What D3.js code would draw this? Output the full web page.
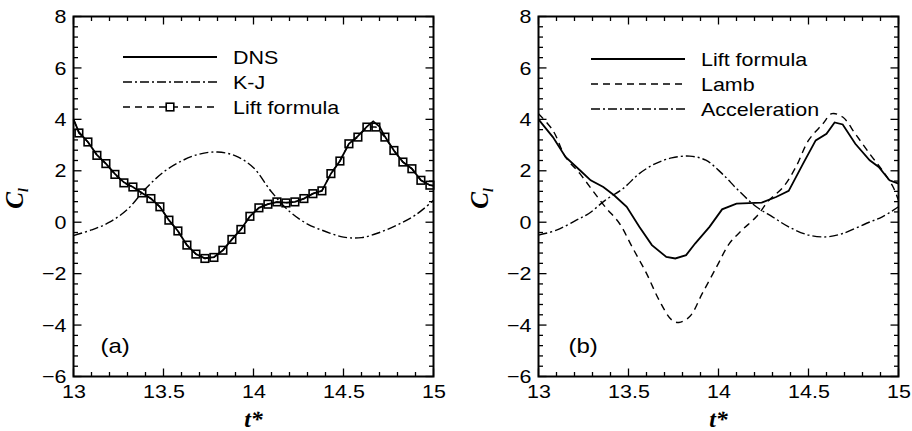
<!DOCTYPE html>
<html><head><meta charset="utf-8">
<script src="https://cdn.jsdelivr.net/npm/d3@7"></script>
<style>body{margin:0;background:#fff}svg{display:block}</style>
</head><body>
<svg id="c" width="912" height="431"></svg>
<script>
// ---------- data ----------
const xTicks = [13, 13.5, 14, 14.5, 15];
const yTicks = [-6, -4, -2, 0, 2, 4, 6, 8];

// Lift formula, panel (a) – markers at interior points
const liftT = [13, 13.03, 13.08, 13.13, 13.18, 13.23, 13.28, 13.33, 13.38, 13.43, 13.48, 13.53, 13.58, 13.63, 13.68, 13.73, 13.78, 13.83, 13.88, 13.93, 13.98, 14.03, 14.08, 14.13, 14.18, 14.23, 14.28, 14.33, 14.38, 14.43, 14.48, 14.53, 14.58, 14.63, 14.68, 14.73, 14.78, 14.83, 14.88, 14.93, 14.98, 15];
const liftV = [4.0, 3.47, 3.12, 2.6, 2.28, 1.86, 1.53, 1.37, 1.14, 0.92, 0.6, 0.08, -0.34, -0.89, -1.24, -1.41, -1.37, -1.09, -0.67, -0.28, 0.23, 0.56, 0.70, 0.79, 0.75, 0.79, 0.92, 1.11, 1.22, 1.89, 2.38, 3.05, 3.31, 3.70, 3.70, 3.31, 2.79, 2.34, 2.08, 1.63, 1.44, 1.42];

// DNS, panel (a)
const dnsT = [13, 13.03, 13.08, 13.13, 13.18, 13.23, 13.28, 13.33, 13.38, 13.43, 13.48, 13.53, 13.58, 13.63, 13.68, 13.73, 13.78, 13.83, 13.88, 13.93, 13.98, 14.03, 14.08, 14.13, 14.18, 14.23, 14.28, 14.33, 14.38, 14.43, 14.48, 14.53, 14.58, 14.63, 14.665, 14.7, 14.73, 14.78, 14.83, 14.88, 14.93, 14.98, 15];
const dnsV = [4.0, 3.5, 3.12, 2.62, 2.28, 1.88, 1.55, 1.37, 1.14, 0.92, 0.6, 0.08, -0.34, -0.89, -1.24, -1.4, -1.36, -1.09, -0.67, -0.28, 0.23, 0.56, 0.70, 0.78, 0.76, 0.79, 0.92, 1.11, 1.22, 1.89, 2.38, 3.05, 3.35, 3.72, 3.92, 3.72, 3.33, 2.79, 2.34, 2.08, 1.63, 1.44, 1.42];

// K-J, panel (a)
const kjT = [13, 13.1, 13.2, 13.3, 13.4, 13.5, 13.6, 13.7, 13.8, 13.9, 14.0, 14.1, 14.2, 14.3, 14.4, 14.5, 14.6, 14.7, 14.8, 14.9, 15];
const kjV = [-0.52, -0.3, 0.0, 0.5, 1.3, 1.95, 2.38, 2.65, 2.73, 2.58, 2.12, 1.18, 0.42, -0.07, -0.36, -0.58, -0.6, -0.4, -0.1, 0.28, 0.85];

// Lift formula, panel (b)
const liftBT = [13, 13.08, 13.15, 13.23, 13.29, 13.36, 13.42, 13.49, 13.56, 13.63, 13.71, 13.76, 13.82, 13.87, 13.95, 14.02, 14.1, 14.17, 14.24, 14.32, 14.39, 14.47, 14.54, 14.6, 14.645, 14.69, 14.76, 14.84, 14.89, 14.95, 15];
const liftBV = [4.0, 3.31, 2.54, 2.02, 1.63, 1.37, 1.05, 0.6, -0.18, -0.89, -1.35, -1.41, -1.28, -0.83, -0.18, 0.5, 0.72, 0.74, 0.76, 0.98, 1.22, 2.28, 3.18, 3.44, 3.88, 3.80, 3.05, 2.41, 2.15, 1.63, 1.5];

// Lamb, panel (b)
const lambT = [13, 13.08, 13.15, 13.23, 13.3, 13.37, 13.45, 13.52, 13.6, 13.67, 13.74, 13.78, 13.84, 13.91, 13.99, 14.06, 14.13, 14.21, 14.28, 14.36, 14.43, 14.5, 14.58, 14.63, 14.69, 14.76, 14.84, 14.91, 14.97, 15];
const lambV = [4.22, 3.57, 2.54, 1.89, 1.24, 0.6, -0.05, -0.96, -1.99, -3.03, -3.8, -3.9, -3.67, -2.77, -1.73, -0.83, -0.31, 0.21, 0.85, 1.37, 2.15, 3.18, 3.83, 4.22, 4.09, 3.44, 2.66, 2.02, 1.37, 0.85];

// Acceleration, panel (b)
const accT = [13, 13.1, 13.21, 13.28, 13.37, 13.47, 13.56, 13.65, 13.74, 13.84, 13.93, 14.02, 14.11, 14.21, 14.3, 14.39, 14.5, 14.6, 14.69, 14.82, 14.91, 15];
const accV = [-0.5, -0.31, 0.08, 0.34, 0.85, 1.31, 1.89, 2.28, 2.5, 2.57, 2.41, 1.89, 1.24, 0.6, 0.21, -0.18, -0.5, -0.57, -0.44, -0.05, 0.21, 0.6];

// ---------- drawing ----------
const svg = d3.select("#c");
const FONT = "'Liberation Sans', Arial, sans-serif";
const SERIF = "'Liberation Serif', 'Times New Roman', serif";
const DASH = "7,5";
const DASHDOT = "9,3,2,3";
const SX = 1.13; // horizontal stretch of the sans text

function zip(t, v) { return t.map((d, i) => ({ t: d, v: v[i] })); }
function stretch(sel, ax) {
  sel.attr("transform", `translate(${ax},0) scale(${SX},1) translate(${-ax},0)`);
}

function panel(x0, x1, y0, y1, tag, series, legend) {
  const g = svg.append("g");
  const x = d3.scaleLinear().domain([13, 15]).range([x0, x1]);
  const y = d3.scaleLinear().domain([-6, 8]).range([y1, y0]);

  const xMinor = d3.range(13, 15.0001, 0.1);
  const yMinor = d3.range(-6, 8.0001, 0.4);
  const major = 8, minor = 4.5;
  const tk = g.append("g").attr("stroke", "#000").attr("stroke-width", 1.3);
  xMinor.forEach(t => {
    const isM = Math.abs(t * 2 - Math.round(t * 2)) < 1e-6;
    const L = isM ? major : minor;
    tk.append("line").attr("x1", x(t)).attr("x2", x(t)).attr("y1", y1).attr("y2", y1 - L);
    tk.append("line").attr("x1", x(t)).attr("x2", x(t)).attr("y1", y0).attr("y2", y0 + L);
  });
  yMinor.forEach(v => {
    const isM = Math.abs(v / 2 - Math.round(v / 2)) < 1e-6;
    const L = isM ? major : minor;
    tk.append("line").attr("y1", y(v)).attr("y2", y(v)).attr("x1", x0).attr("x2", x0 + L);
    tk.append("line").attr("y1", y(v)).attr("y2", y(v)).attr("x1", x1).attr("x2", x1 - L);
  });

  const xa = d3.axisBottom(x).tickValues(xTicks).tickSize(0).tickPadding(8).tickFormat(d3.format(""));
  const xg = g.append("g").attr("transform", `translate(0,${y1})`).call(xa);
  const ya = d3.axisLeft(y).tickValues(yTicks).tickSize(0).tickPadding(7).tickFormat(d3.format(""));
  const yg = g.append("g").attr("transform", `translate(${x0},0)`).call(ya);
  [xg, yg].forEach(a => {
    a.select(".domain").remove();
    a.selectAll("text").attr("font-family", FONT).attr("font-size", 19).attr("fill", "#000");
  });
  xg.selectAll("text").attr("transform", `scale(${SX},1)`);
  yg.selectAll("text").each(function () { stretch(d3.select(this), -7); });

  series.forEach(s => {
    const line = d3.line().x(d => x(d.t)).y(d => y(d.v)).curve(s.curve || d3.curveLinear);
    g.append("path").datum(zip(s.t, s.v)).attr("d", line)
      .attr("fill", "none").attr("stroke", "#000").attr("stroke-width", s.w || 1.3)
      .attr("stroke-dasharray", s.dash || null);
    if (s.markers) {
      const pts = zip(s.t, s.v).slice(1, -1);
      g.selectAll(null).data(pts).enter().append("rect")
        .attr("x", d => x(d.t) - 3.8).attr("y", d => y(d.v) - 3.8)
        .attr("width", 7.6).attr("height", 7.6)
        .attr("fill", "none").attr("stroke", "#000").attr("stroke-width", 1.6);
    }
  });

  g.append("rect").attr("x", x0).attr("y", y0).attr("width", x1 - x0).attr("height", y1 - y0)
    .attr("fill", "none").attr("stroke", "#000").attr("stroke-width", 2);

  legend.items.forEach((it, i) => {
    const ly = legend.y + i * 25;
    g.append("line").attr("x1", legend.x).attr("x2", legend.x + 94).attr("y1", ly).attr("y2", ly)
      .attr("stroke", "#000").attr("stroke-width", it.w || 1.3).attr("stroke-dasharray", it.dash || null);
    if (it.marker) {
      g.append("rect").attr("x", legend.x + 47 - 3.8).attr("y", ly - 3.8).attr("width", 7.6).attr("height", 7.6)
        .attr("fill", "#fff").attr("stroke", "#000").attr("stroke-width", 1.6);
    }
    const tx = legend.x + 110;
    const t = g.append("text").attr("x", tx).attr("y", ly).attr("dy", "0.35em")
      .attr("font-family", FONT).attr("font-size", 19).text(it.label);
    stretch(t, tx);
  });

  const tg = g.append("text").attr("x", x0 + tag.dx).attr("y", 353).attr("font-family", FONT).attr("font-size", 20).text(tag.text);
  tg.attr("transform", `translate(${x0 + tag.dx},0) scale(1.2,1) translate(${-(x0 + tag.dx)},0)`);

  g.append("text").attr("x", (x0 + x1) / 2).attr("y", 427).attr("text-anchor", "middle")
    .attr("font-family", SERIF).attr("font-weight", "bold").attr("font-style", "italic").attr("font-size", 24)
    .text("t*");
  const yt = g.append("text").attr("transform", `translate(${x0 - 51},${(y0 + y1) / 2 + 2}) rotate(-90)`)
    .attr("text-anchor", "middle").attr("font-family", SERIF).attr("font-weight", "bold")
    .attr("font-style", "italic").attr("font-size", 25);
  yt.append("tspan").text("C");
  yt.append("tspan").attr("font-size", 14).attr("dy", 5).text("l");
}

panel(73.5, 433.5, 16.5, 376.5, { text: "(a)", dx: 27 }, [
  { t: kjT, v: kjV, dash: DASHDOT, curve: d3.curveCatmullRom, w: 1.4 },
  { t: liftT, v: liftV, dash: DASH, markers: true, w: 1.4 },
  { t: dnsT, v: dnsV, w: 1.8 }
], { x: 123, y: 57, items: [
  { label: "DNS", w: 1.8 },
  { label: "K-J", dash: DASHDOT, w: 1.4 },
  { label: "Lift formula", dash: DASH, marker: true, w: 1.4 }
]});

panel(538.5, 898.5, 16.5, 376.5, { text: "(b)", dx: 30 }, [
  { t: accT, v: accV, dash: DASHDOT, curve: d3.curveCatmullRom, w: 1.4 },
  { t: lambT, v: lambV, dash: DASH, curve: d3.curveCatmullRom, w: 1.4 },
  { t: liftBT, v: liftBV, w: 1.8 }
], { x: 591, y: 59, items: [
  { label: "Lift formula", w: 1.8 },
  { label: "Lamb", dash: DASH, w: 1.4 },
  { label: "Acceleration", dash: DASHDOT, w: 1.4 }
]});
</script>
</body></html>
